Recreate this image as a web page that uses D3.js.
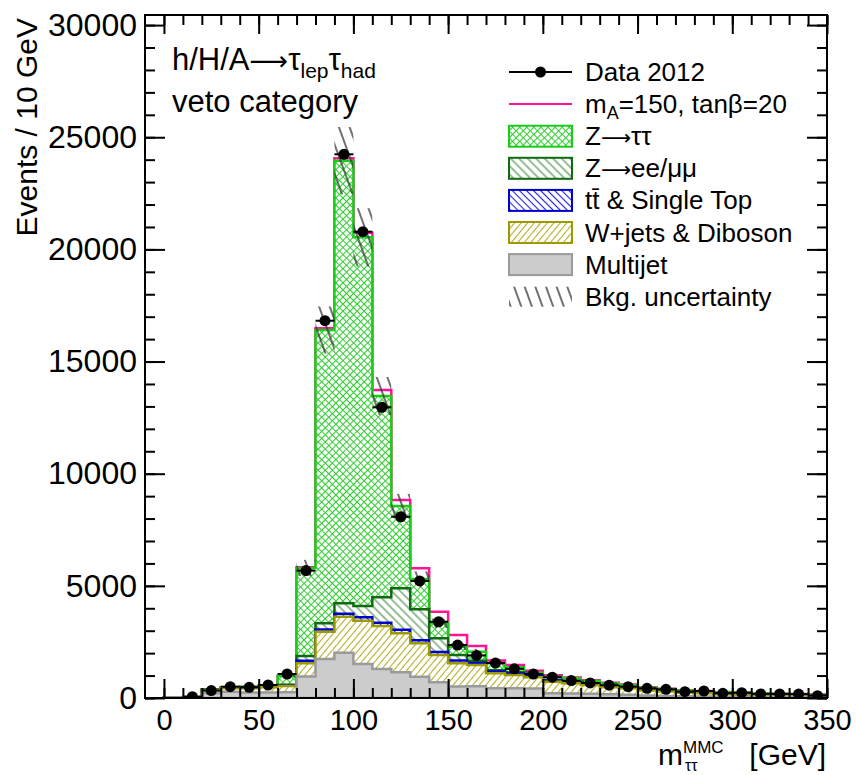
<!DOCTYPE html>
<html lang="en">
<head>
<meta charset="UTF-8"/>
<title>m_tautau MMC - veto category</title>
<script src="https://d3js.org/d3.v7.min.js"></script>
<style>
  body { margin: 0; background: #fff; }
  text { font-family: "Liberation Sans", Arial, Helvetica, sans-serif; fill: #000; }
  .axis .tick line { stroke: #000; stroke-width: 2px; }
  .arrow { font-family: "DejaVu Sans", sans-serif; }
</style>
</head>
<body>
<div id="chart"></div>
<script>
// bins of 10 GeV, lower edges
const binLow = [0, 10, 20, 30, 40, 50, 60, 70, 80, 90, 100, 110, 120, 130, 140, 150, 160,
  170, 180, 190, 200, 210, 220, 230, 240, 250, 260, 270, 280, 290, 300, 310, 320, 330, 340];
const binWidth = 10;

// background components (events / bin), bottom to top of the stack
const multijet = [20, 20, 210, 280, 240, 240, 260, 960, 1740, 2020, 1520, 1290, 1150, 950, 700, 510, 520,
  430, 430, 420, 210, 200, 190, 170, 140, 110, 90, 80, 70, 60, 50, 45, 40, 35, 30];
const wjets = [0, 5, 146, 152, 192, 236, 275, 587, 1216, 1605, 1927, 1920, 1740, 1488, 1217, 1037, 951,
  670, 595, 501, 518, 454, 390, 306, 292, 220, 200, 150, 140, 110, 100, 85, 80, 75, 60];
const ttbar = [0, 2, 6, 8, 10, 12, 15, 118, 100, 130, 150, 150, 150, 140, 130, 120, 90,
  80, 70, 60, 55, 50, 45, 40, 35, 30, 28, 25, 22, 20, 18, 16, 14, 12, 10];
const zll = [0, 3, 10, 15, 20, 25, 40, 207, 274, 466, 503, 1128, 1850, 1375, 613, 250, 100,
  60, 50, 40, 30, 25, 20, 18, 15, 12, 10, 8, 8, 6, 6, 5, 5, 4, 4];
const ztt = [0, 10, 15, 21, 43, 47, 390, 3928, 13075, 19732, 16437, 8975, 3670, 1352, 670, 371, 403,
  307, 222, 108, 137, 148, 113, 120, 98, 88, 72, 67, 60, 64, 56, 59, 51, 44, 46];

// signal mA=150, tanb=20 (stacked on the background)
const signal = [0, 0, 0, 0, 0, 0, 5, 30, 75, 110, 200, 270, 270, 480, 520, 520, 250,
  120, 100, 90, 60, 40, 30, 25, 20, 15, 12, 10, 8, 6, 5, 4, 4, 3, 3];

// background uncertainty (absolute)
const bkgUnc = [2, 3, 25, 30, 30, 35, 60, 360, 1050, 1500, 1300, 850, 540, 340, 210, 150, 130,
  100, 90, 75, 60, 55, 50, 42, 38, 30, 26, 22, 20, 17, 15, 13, 12, 11, 10];

// data 2012
const data2012 = [null, 60, 330, 505, 476, 580, 1070, 5680, 16820, 24240, 20790, 12960, 8080, 5220, 3400, 2360, 1900,
  1560, 1300, 1070, 930, 775, 670, 570, 505, 432, 387, 282, 312, 210, 237, 180, 180, 175, 105];

const xTicks = [0, 50, 100, 150, 200, 250, 300, 350];
const yTicks = [0, 5000, 10000, 15000, 20000, 25000, 30000];

const layerKeys = ["multijet", "wjets", "ttbar", "zll", "ztt"];
const layerStyle = {
  multijet: {stroke: "#9a9a9a", fill: "#cccccc"},
  wjets: {stroke: "#9c9a00", fill: "url(#hatchW)"},
  ttbar: {stroke: "#0000cc", fill: "url(#hatchTop)"},
  zll: {stroke: "#0f6b0f", fill: "url(#hatchZll)"},
  ztt: {stroke: "#1ccc1c", fill: "url(#crossZtt)"}
};

const legendItems = [
  {key: "data", label: [["Data 2012"]]},
  {key: "signal", label: [["m"], ["A", "sub"], ["=150, tanβ=20"]]},
  {key: "ztt", label: [["Z"], ["⟶", "arrow"], ["ττ"]]},
  {key: "zll", label: [["Z"], ["⟶", "arrow"], ["ee/μμ"]]},
  {key: "ttbar", label: [["tt̄ & Single Top"]]},
  {key: "wjets", label: [["W+jets & Diboson"]]},
  {key: "multijet", label: [["Multijet"]]},
  {key: "unc", label: [["Bkg. uncertainty"]]}
];

const width = 856, height = 775;
const margin = {top: 15, right: 29, bottom: 77, left: 145};

const svg = d3.select("#chart").append("svg")
  .attr("width", width)
  .attr("height", height);

// patterns
const defs = svg.append("defs");
function hatch(id, color, angle, spacing, sw) {
  const p = defs.append("pattern").attr("id", id)
    .attr("patternUnits", "userSpaceOnUse")
    .attr("width", spacing).attr("height", spacing)
    .attr("patternTransform", "rotate(" + angle + ")");
  p.append("line").attr("x1", spacing / 2).attr("x2", spacing / 2)
    .attr("y1", 0).attr("y2", spacing)
    .attr("stroke", color).attr("stroke-width", sw);
}
hatch("hatchW", "#b2ae2a", 40, 5, 1.1);
hatch("hatchTop", "#2222dd", -45, 5, 1.1);
hatch("hatchZll", "#3a8a3a", -45, 6, 1.1);
hatch("hatchUnc", "#333333", -20, 10, 1.4);
const cross = defs.append("pattern").attr("id", "crossZtt")
  .attr("patternUnits", "userSpaceOnUse")
  .attr("width", 5).attr("height", 5)
  .attr("patternTransform", "rotate(45)");
cross.append("path").attr("d", "M0,2.5H5M2.5,0V5")
  .attr("stroke", "#33cc33").attr("stroke-width", 1.1);

defs.append("clipPath").attr("id", "plotClip")
  .append("rect")
  .attr("x", margin.left).attr("y", margin.top)
  .attr("width", width - margin.left - margin.right)
  .attr("height", height - margin.top - margin.bottom);

const x = d3.scaleLinear().domain([-10, 350]).range([margin.left, width - margin.right]);
const y = d3.scaleLinear().domain([0, 30450]).range([height - margin.bottom, margin.top]);

const rows = binLow.map((lo, i) => ({
  lo: lo, multijet: multijet[i], wjets: wjets[i], ttbar: ttbar[i], zll: zll[i], ztt: ztt[i]
}));
const stacked = d3.stack().keys(layerKeys)(rows);

// step outline of a histogram, closed down to zero at both ends
function stepPoints(vals) {
  const pts = [[binLow[0], 0]];
  vals.forEach((v, i) => {
    pts.push([binLow[i], v]);
    pts.push([binLow[i] + binWidth, v]);
  });
  pts.push([binLow[binLow.length - 1] + binWidth, 0]);
  return pts;
}
const line = d3.line().x(d => x(d[0])).y(d => y(d[1]));

const plot = svg.append("g").attr("clip-path", "url(#plotClip)");

// signal on top of the total background
const totalBkg = stacked[stacked.length - 1].map(d => d[1]);
plot.append("path")
  .attr("d", line(stepPoints(totalBkg.map((v, i) => v + signal[i]))))
  .attr("fill", "none")
  .attr("stroke", "#ff1493")
  .attr("stroke-width", 2.5);

// stack, drawn from the top sum down so lower sums cover the ones above
stacked.slice().reverse().forEach(layer => {
  const st = layerStyle[layer.key];
  const d = line(stepPoints(layer.map(v => v[1]))) + "Z";
  plot.append("path").attr("d", d).attr("fill", "#fff");
  plot.append("path").attr("d", d)
    .attr("fill", st.fill)
    .attr("stroke", st.stroke)
    .attr("stroke-width", 2.5);
});

// background uncertainty band
plot.selectAll("rect.unc")
  .data(binLow.map((lo, i) => ({lo: lo, v: totalBkg[i], e: bkgUnc[i]})))
  .join("rect")
  .attr("class", "unc")
  .attr("x", d => x(d.lo))
  .attr("width", d => x(d.lo + binWidth) - x(d.lo))
  .attr("y", d => y(d.v + d.e))
  .attr("height", d => y(d.v - d.e) - y(d.v + d.e))
  .attr("fill", "url(#hatchUnc)");

// data points
const pts = binLow.map((lo, i) => ({lo: lo, v: data2012[i]})).filter(d => d.v != null);
const dg = plot.append("g");
dg.selectAll("line.ex").data(pts).join("line")
  .attr("class", "ex")
  .attr("x1", d => x(d.lo)).attr("x2", d => x(d.lo + binWidth))
  .attr("y1", d => y(d.v)).attr("y2", d => y(d.v))
  .attr("stroke", "#000").attr("stroke-width", 2);
dg.selectAll("line.ey").data(pts).join("line")
  .attr("class", "ey")
  .attr("x1", d => x(d.lo + binWidth / 2)).attr("x2", d => x(d.lo + binWidth / 2))
  .attr("y1", d => y(d.v + Math.sqrt(d.v))).attr("y2", d => y(d.v - Math.sqrt(d.v)))
  .attr("stroke", "#000").attr("stroke-width", 2);
dg.selectAll("circle").data(pts).join("circle")
  .attr("cx", d => x(d.lo + binWidth / 2))
  .attr("cy", d => y(d.v))
  .attr("r", 5.5)
  .attr("fill", "#000");

// axes: ticks inside the frame on all four sides
const xMinor = d3.range(0, 351, 10);
const yMinor = d3.range(0, 30001, 1000);
function clean(g) { g.select(".domain").remove(); }

svg.append("g").attr("class", "axis")
  .attr("transform", "translate(0," + y(0) + ")")
  .call(d3.axisBottom(x).tickValues(xMinor).tickSize(-10).tickFormat(""))
  .call(clean);
svg.append("g").attr("class", "axis")
  .attr("transform", "translate(0," + y(0) + ")")
  .call(d3.axisBottom(x).tickValues(xTicks).tickSize(-19).tickPadding(11).tickFormat(d3.format("d")))
  .call(clean)
  .selectAll("text").style("font-size", "29px");
svg.append("g").attr("class", "axis")
  .attr("transform", "translate(0," + margin.top + ")")
  .call(d3.axisTop(x).tickValues(xMinor).tickSize(-10).tickFormat(""))
  .call(clean);
svg.append("g").attr("class", "axis")
  .attr("transform", "translate(0," + margin.top + ")")
  .call(d3.axisTop(x).tickValues(xTicks).tickSize(-19).tickFormat(""))
  .call(clean);

svg.append("g").attr("class", "axis")
  .attr("transform", "translate(" + margin.left + ",0)")
  .call(d3.axisLeft(y).tickValues(yMinor).tickSize(-10).tickFormat(""))
  .call(clean);
svg.append("g").attr("class", "axis")
  .attr("transform", "translate(" + margin.left + ",0)")
  .call(d3.axisLeft(y).tickValues(yTicks).tickSize(-20).tickPadding(8).tickFormat(d3.format("d")))
  .call(clean)
  .selectAll("text").style("font-size", "32px");
svg.append("g").attr("class", "axis")
  .attr("transform", "translate(" + (width - margin.right) + ",0)")
  .call(d3.axisRight(y).tickValues(yMinor).tickSize(-10).tickFormat(""))
  .call(clean);
svg.append("g").attr("class", "axis")
  .attr("transform", "translate(" + (width - margin.right) + ",0)")
  .call(d3.axisRight(y).tickValues(yTicks).tickSize(-20).tickFormat(""))
  .call(clean);

svg.selectAll(".axis text").attr("fill", "#000").style("font-family", "'Liberation Sans', Arial, sans-serif");

// frame
svg.append("rect")
  .attr("x", margin.left).attr("y", margin.top)
  .attr("width", width - margin.left - margin.right)
  .attr("height", height - margin.top - margin.bottom)
  .attr("fill", "none").attr("stroke", "#000").attr("stroke-width", 2);

// axis titles
svg.append("text")
  .attr("transform", "translate(37,18) rotate(-90)")
  .attr("text-anchor", "end")
  .style("font-size", "30px")
  .text("Events / 10 GeV");

const xt = svg.append("text").attr("x", 658).attr("y", 765).style("font-size", "30px");
xt.append("tspan").text("m");
xt.append("tspan").attr("dy", -12).style("font-size", "17px").text("MMC");
xt.append("tspan").attr("x", 685).attr("dy", 18).style("font-size", "16px").text("ττ");
xt.append("tspan").attr("x", 826).attr("dy", -6).attr("text-anchor", "end").text("[GeV]");

// process / category labels
const lab = svg.append("text").attr("x", 172).attr("y", 70).style("font-size", "31px");
lab.append("tspan").text("h/H/A");
lab.append("tspan").attr("class", "arrow").style("font-size", "27px").text("⟶");
lab.append("tspan").text("τ");
lab.append("tspan").attr("dy", 8).style("font-size", "21px").text("lep");
lab.append("tspan").attr("dy", -8).text("τ");
lab.append("tspan").attr("dy", 8).style("font-size", "21px").text("had");
svg.append("text").attr("x", 172).attr("y", 112).style("font-size", "31px").text("veto category");

// legend
const legX0 = 509, legX1 = 572, legTextX = 585, legY0 = 72, legStep = 32.1;
const leg = svg.append("g");
legendItems.forEach((item, i) => {
  const cy = legY0 + i * legStep;
  if (item.key === "data") {
    leg.append("line").attr("x1", legX0).attr("x2", legX1).attr("y1", cy).attr("y2", cy)
      .attr("stroke", "#000").attr("stroke-width", 2);
    leg.append("circle").attr("cx", (legX0 + legX1) / 2).attr("cy", cy).attr("r", 5.5).attr("fill", "#000");
  } else if (item.key === "signal") {
    leg.append("line").attr("x1", legX0).attr("x2", legX1).attr("y1", cy).attr("y2", cy)
      .attr("stroke", "#ff1493").attr("stroke-width", 2);
  } else if (item.key === "unc") {
    leg.append("rect").attr("x", legX0).attr("y", cy - 10).attr("width", legX1 - legX0).attr("height", 20)
      .attr("fill", "url(#hatchUnc)");
  } else {
    const st = layerStyle[item.key];
    leg.append("rect").attr("x", legX0).attr("y", cy - 10.5).attr("width", legX1 - legX0).attr("height", 21)
      .attr("fill", "#fff");
    leg.append("rect").attr("x", legX0).attr("y", cy - 10.5).attr("width", legX1 - legX0).attr("height", 21)
      .attr("fill", st.fill).attr("stroke", st.stroke).attr("stroke-width", 2);
  }
  const t = leg.append("text").attr("x", legTextX).attr("y", cy + 9)
    .style("font-size", "26px");
  let shifted = 0;
  item.label.forEach(part => {
    const ts = t.append("tspan").text(part[0]);
    if (part[1] === "sub") {
      ts.attr("dy", 6).style("font-size", "18px");
      shifted = 6;
    } else {
      if (shifted) { ts.attr("dy", -shifted); shifted = 0; }
      if (part[1] === "arrow") ts.attr("class", "arrow").style("font-size", "21px");
    }
  });
});
</script>
</body>
</html>
